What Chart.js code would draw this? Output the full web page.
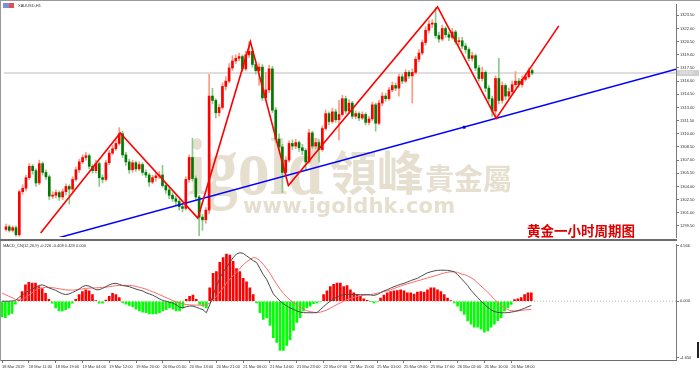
<!DOCTYPE html>
<html>
<head>
<meta charset="utf-8">
<script src="https://cdn.jsdelivr.net/npm/chart.js@4/dist/chart.umd.min.js"></script>
<style>
  html, body { margin: 0; padding: 0; background: #fff; }
  #wrap { position: relative; width: 700px; height: 370px; overflow: hidden; }
  canvas { position: absolute; left: 0; }
  #price { top: 0; }
  #macd { top: 241px; }
</style>
</head>
<body>
<div id="wrap">
  <canvas id="price" width="700" height="241"></canvas>
  <canvas id="macd" width="700" height="129"></canvas>
</div>
<script>
// XAUUSD H1, 18 Mar 03:00 -> 26 Mar, one entry per hourly bar
const timeLabels = ['18 Mar 2019', '18 Mar 11:00', '18 Mar 19:00', '19 Mar 04:00', '19 Mar 12:00',
  '19 Mar 20:00', '20 Mar 05:00', '20 Mar 13:00', '20 Mar 21:00', '21 Mar 06:00', '21 Mar 14:00',
  '21 Mar 23:00', '22 Mar 07:00', '22 Mar 15:00', '25 Mar 01:00', '25 Mar 09:00', '25 Mar 17:00',
  '26 Mar 02:00', '26 Mar 10:00', '26 Mar 18:00'];
const labelStep = 8; // one time label every 8 bars

const firstOpen = 1299.1;
const closes = [
  1299.4, 1299.0, 1299.3, 1298.5, 1303.4, 1303.8, 1305.0, 1306.3, 1305.8, 1304.4,
  1306.6, 1305.6, 1305.1, 1302.9, 1303.0, 1303.3, 1302.8, 1303.4, 1304.0, 1303.7,
  1304.8, 1305.9, 1306.8, 1307.3, 1307.5, 1306.3, 1305.8, 1306.6, 1305.0, 1304.8,
  1306.7, 1307.8, 1308.3, 1308.9, 1310.0, 1307.6, 1306.8, 1305.9, 1306.7, 1306.0,
  1306.5, 1305.6, 1305.3, 1304.5, 1305.0, 1305.2, 1305.3, 1304.1, 1303.6, 1303.0,
  1302.6, 1302.3, 1301.7, 1301.5, 1304.8, 1307.3, 1304.9, 1302.8, 1300.5, 1300.2,
  1301.3, 1314.3, 1313.8, 1312.4, 1313.0, 1315.4, 1316.0, 1317.5, 1318.3, 1318.6,
  1318.8, 1317.4, 1319.0, 1319.4, 1317.9, 1317.2, 1317.6, 1314.1, 1315.0, 1317.4,
  1312.7, 1309.4, 1308.5, 1305.6, 1307.0, 1308.9, 1308.6, 1309.0, 1308.4, 1308.1,
  1306.8, 1310.1, 1308.6, 1309.0, 1308.2, 1310.6, 1312.3, 1311.4, 1312.5, 1311.6,
  1312.2, 1314.0, 1312.6, 1313.5, 1312.0, 1312.3, 1311.8, 1312.2, 1311.3, 1311.7,
  1313.3, 1311.2, 1313.5, 1314.3, 1314.0, 1315.0, 1315.5, 1315.2, 1316.5, 1316.0,
  1317.0, 1316.6, 1317.0, 1318.5, 1319.2, 1320.4, 1321.8, 1322.5, 1322.6, 1321.2,
  1320.8, 1322.0, 1321.3, 1321.0, 1321.6, 1320.5, 1320.6, 1320.0, 1319.6, 1318.6,
  1318.9, 1317.5, 1316.3, 1317.0, 1315.2, 1314.0, 1312.6, 1316.3, 1313.8, 1315.5,
  1314.3, 1314.8, 1315.6, 1316.0, 1315.6, 1316.2, 1316.5, 1317.2, 1316.92
];
const highs = [
  1299.7, 1299.6, 1299.5, 1299.5, 1303.6, 1304.2, 1305.3, 1306.6, 1306.5, 1306.0,
  1307.0, 1306.8, 1305.9, 1305.3, 1303.4, 1303.6, 1303.5, 1303.7, 1304.3, 1304.2,
  1305.1, 1306.2, 1307.1, 1307.6, 1307.9, 1307.7, 1306.5, 1307.0, 1306.8, 1305.3,
  1307.0, 1308.1, 1308.7, 1309.3, 1310.7, 1310.3, 1307.9, 1307.1, 1307.0, 1306.9,
  1306.8, 1306.7, 1305.9, 1305.5, 1305.3, 1305.5, 1305.7, 1306.4, 1304.4, 1303.9,
  1303.3, 1302.9, 1302.5, 1302.0, 1305.1, 1307.6, 1309.5, 1305.2, 1303.0, 1300.8,
  1301.6, 1316.8, 1315.2, 1314.0, 1313.4, 1315.8, 1316.5, 1318.0, 1318.9, 1319.0,
  1319.2, 1319.0, 1319.4, 1320.5, 1319.7, 1318.2, 1318.0, 1317.9, 1317.0, 1317.8,
  1317.7, 1313.0, 1310.0, 1308.8, 1307.4, 1309.2, 1309.3, 1309.4, 1309.2, 1308.8,
  1308.3, 1310.5, 1310.3, 1309.5, 1309.3, 1310.9, 1312.7, 1312.5, 1312.9, 1312.8,
  1313.8, 1314.4, 1314.3, 1313.9, 1313.7, 1312.6, 1312.5, 1312.5, 1312.4, 1312.0,
  1313.6, 1313.5, 1313.8, 1314.7, 1314.6, 1315.3, 1315.9, 1315.8, 1316.8, 1316.8,
  1317.3, 1317.2, 1317.4, 1318.8, 1319.6, 1320.7, 1322.2, 1322.9, 1323.0, 1324.4,
  1321.6, 1322.4, 1322.2, 1321.6, 1322.0, 1321.8, 1321.0, 1321.0, 1320.3, 1319.8,
  1319.3, 1319.1, 1317.8, 1317.6, 1317.2, 1315.5, 1314.3, 1316.6, 1318.6, 1315.9,
  1315.7, 1315.2, 1316.0, 1317.1, 1316.3, 1316.6, 1316.9, 1317.5, 1317.4
];
const lows = [
  1298.9, 1298.8, 1298.8, 1298.3, 1298.3, 1303.1, 1303.5, 1304.8, 1305.4, 1304.0,
  1304.2, 1305.3, 1304.8, 1302.5, 1302.6, 1302.7, 1302.4, 1302.5, 1303.0, 1302.0,
  1303.4, 1304.6, 1305.6, 1306.6, 1307.0, 1306.0, 1305.5, 1305.5, 1304.0, 1304.4,
  1304.6, 1306.5, 1307.6, 1308.1, 1308.7, 1307.3, 1306.4, 1305.5, 1305.6, 1305.7,
  1305.8, 1305.3, 1305.0, 1304.0, 1304.3, 1304.6, 1304.9, 1303.9, 1303.2, 1302.6,
  1302.3, 1301.9, 1301.3, 1301.1, 1301.3, 1304.5, 1304.6, 1302.4, 1298.4, 1299.0,
  1299.8, 1300.9, 1313.4, 1311.8, 1312.0, 1312.8, 1315.0, 1315.8, 1317.2, 1318.0,
  1318.3, 1317.1, 1317.2, 1318.7, 1317.6, 1316.8, 1315.5, 1313.8, 1313.8, 1314.7,
  1312.4, 1309.0, 1308.2, 1303.3, 1305.2, 1306.8, 1308.2, 1308.3, 1308.0, 1307.6,
  1305.8, 1306.6, 1308.3, 1308.3, 1306.8, 1308.0, 1310.4, 1311.0, 1311.2, 1311.3,
  1309.3, 1312.0, 1312.3, 1312.3, 1311.7, 1311.7, 1311.5, 1311.6, 1311.0, 1311.0,
  1311.5, 1310.3, 1311.0, 1313.2, 1313.7, 1313.8, 1314.8, 1314.9, 1314.3, 1315.7,
  1315.8, 1316.3, 1313.5, 1316.8, 1318.2, 1319.0, 1320.1, 1321.5, 1322.1, 1320.9,
  1320.4, 1320.6, 1321.0, 1320.6, 1320.8, 1320.2, 1320.1, 1319.7, 1319.2, 1318.3,
  1318.3, 1317.2, 1316.0, 1316.0, 1314.8, 1313.6, 1312.0, 1311.9, 1313.4, 1313.5,
  1313.9, 1314.0, 1314.5, 1315.3, 1315.3, 1315.3, 1316.0, 1316.3, 1316.7
];
const priceTicks = [1323.5, 1322.0, 1320.5, 1319.0, 1317.5, 1316.0, 1314.5, 1313.0, 1311.5,
  1310.0, 1308.5, 1307.0, 1305.5, 1304.0, 1302.5, 1301.0, 1299.5];
const bidPrice = 1316.92;

// hand drawn analysis lines: [bar, price]
const zigzag = [[10.4, 1298.7], [34.3, 1310.1], [57.6, 1300.4], [73.4, 1320.5], [84.8, 1304.1],
  [129.6, 1324.45], [147.2, 1311.75], [166.0, 1322.3]];
const trendLine = [[14.3, 1298.0], [201.2, 1317.37]];
const trendMark = [137.6, 1310.75];

// MACD_CN(12,26,9)
const macdHist = [
  -1.3, -1.35, -1.1, -1.0, -0.25, 0.1, 0.8, 1.35, 1.55, 1.5,
  1.5, 1.2, 1.05, 0.65, 0.15, -0.15, -0.55, -0.8, -0.8, -0.7,
  -0.55, -0.15, 0.15, 0.55, 0.8, 0.95, 0.85, 0.55, 0.05, -0.15,
  -0.15, 0.1, 0.4, 0.65, 0.55, 0.3, -0.12, -0.25, -0.35, -0.45,
  -0.65, -0.8, -0.9, -0.95, -1.05, -1.05, -1.05, -0.95, -0.8, -0.7,
  -0.55, -0.65, -0.8, -0.8, -0.55, 0.15, 0.4, 0.5, 0.15, -0.27,
  -0.4, -0.55, 1.1, 2.3, 2.45, 3.2, 3.6, 3.9, 3.8, 3.3,
  2.7, 2.45, 1.9, 1.6, 1.1, 0.55, -0.13, -0.95, -1.5, -1.35,
  -2.0, -3.0, -3.4, -4.05, -4.05, -3.65, -3.2, -2.4, -1.75, -1.35,
  -0.8, -0.55, -0.4, -0.2, -0.13, -0.05, 0.55, 0.85, 1.2, 1.4,
  1.5, 1.5, 1.2, 1.3, 0.95, 0.7, 0.55, 0.4, 0.2, 0.08,
  -0.02, -0.13, -0.05, 0.27, 0.5, 0.7, 0.8, 0.85, 0.88, 0.95,
  0.85, 0.7, 0.7, 0.6, 0.75, 0.8, 0.75, 0.95, 1.1, 1.1,
  0.95, 0.8, 0.55, 0.27, 0.05, -0.13, -0.4, -0.8, -1.08, -1.6,
  -1.9, -2.15, -2.15, -2.3, -2.55, -2.45, -2.15, -1.9, -1.6, -1.35,
  -0.8, -0.55, -0.27, 0.13, 0.2, 0.3, 0.55, 0.7, 0.7
];
const macdLine = [
  0.0, 0.0, 0.0, 0.02, 0.05, 0.3, 0.5, 0.7, 0.85, 1.0,
  1.15, 1.3, 1.35, 1.25, 1.1, 1.0, 0.9, 0.75, 0.62, 0.55,
  0.6, 0.72, 0.85, 1.0, 1.2, 1.3, 1.25, 1.1, 0.95, 0.95,
  1.05, 1.2, 1.35, 1.45, 1.48, 1.4, 1.3, 1.25, 1.2, 1.1,
  1.0, 0.92, 0.85, 0.7, 0.6, 0.5, 0.35, 0.2, 0.05, 0.0,
  -0.1, -0.15, -0.3, -0.5, -0.55, -0.45, -0.4, -0.4, -0.5, -0.6,
  -0.7, -0.95, -0.3, 0.5, 1.2, 1.9, 2.4, 2.8, 3.2, 3.6,
  3.9, 4.0, 3.95, 3.75, 3.55, 3.35, 3.2, 2.7, 2.2, 1.8,
  1.2, 0.6, 0.3, 0.0, -0.2, -0.4, -0.55, -0.67, -0.8, -0.9,
  -0.94, -0.95, -0.95, -0.95, -0.94, -0.7, -0.45, -0.2, 0.0, 0.2,
  0.35, 0.48, 0.54, 0.56, 0.55, 0.55, 0.54, 0.54, 0.54, 0.54,
  0.52, 0.48, 0.55, 0.7, 0.85, 0.95, 1.08, 1.2, 1.3, 1.4,
  1.48, 1.58, 1.7, 1.8, 1.89, 2.05, 2.2, 2.35, 2.43, 2.5,
  2.55, 2.56, 2.56, 2.55, 2.5, 2.43, 2.2, 1.9, 1.6, 1.3,
  0.9, 0.6, 0.3, 0.0, -0.25, -0.5, -0.72, -0.85, -0.92, -0.95,
  -0.95, -0.94, -0.9, -0.85, -0.78, -0.68, -0.58, -0.45, -0.35
];
const signalLine = [
  0.67, 0.55, 0.42, 0.3, 0.15, 0.1, 0.15, 0.3, 0.5, 0.7,
  0.9, 1.05, 1.1, 1.15, 1.15, 1.12, 1.08, 1.03, 0.98, 0.94,
  0.92, 0.92, 0.94, 0.98, 1.02, 1.06, 1.08, 1.1, 1.1, 1.12,
  1.14, 1.16, 1.2, 1.24, 1.28, 1.3, 1.3, 1.3, 1.3, 1.28,
  1.22, 1.15, 1.08, 1.0, 0.88, 0.78, 0.66, 0.55, 0.42, 0.3,
  0.18, 0.05, -0.05, -0.15, -0.22, -0.27, -0.3, -0.32, -0.32, -0.33,
  -0.34, -0.3, -0.15, 0.1, 0.4, 0.75, 1.1, 1.5, 1.8, 2.1,
  2.4, 2.7, 3.0, 3.25, 3.45, 3.6, 3.55, 3.35, 3.05, 2.7,
  2.3, 1.85, 1.4, 1.0, 0.65, 0.35, 0.1, -0.1, -0.3, -0.5,
  -0.65, -0.78, -0.86, -0.91, -0.94, -0.9, -0.82, -0.72, -0.58, -0.42,
  -0.27, -0.13, 0.0, 0.12, 0.22, 0.32, 0.4, 0.45, 0.5, 0.52,
  0.54, 0.6, 0.66, 0.72, 0.8, 0.86, 0.95, 1.05, 1.15, 1.25,
  1.35, 1.43, 1.51, 1.6, 1.68, 1.75, 1.84, 1.92, 2.0, 2.08,
  2.16, 2.25, 2.33, 2.39, 2.43, 2.42, 2.38, 2.25, 2.2, 2.1,
  1.95, 1.75, 1.5, 1.25, 1.0, 0.75, 0.45, 0.15, -0.1, -0.35,
  -0.55, -0.7, -0.78, -0.8, -0.8, -0.76, -0.72, -0.7, -0.67
];
const macdTicks = [4.566, 0, -4.65];

// ---- layout (bar index on x) ----
const X_MIN = -0.6, X_MAX = 201.2;
const AXIS_W = 24;
const FONT = '"Liberation Sans", Arial, sans-serif';

const opens = closes.map((c, i) => (i === 0 ? firstOpen : closes[i - 1]));
const isUp = i => closes[i] >= opens[i];

const pt = ([x, y]) => ({ x, y });

// watermark, title and chart frame for the price window
const priceDecor = {
  id: 'priceDecor',
  beforeDatasetsDraw(chart) {
    const ctx = chart.ctx;
    ctx.save();
    ctx.fillStyle = '#e6dfcf';
    ctx.textBaseline = 'alphabetic';
    ctx.save();
    ctx.translate(188, 194);
    ctx.scale(1, 1.25);
    ctx.font = 'bold 64px "Liberation Serif", serif';
    ctx.fillText('igold', 0, 0);
    ctx.restore();
    ctx.textBaseline = 'middle';
    ctx.font = 'bold 47px "Noto Sans CJK TC"';
    ctx.fillText('領峰', 330, 172);
    ctx.font = 'bold 29px "Noto Sans CJK TC"';
    ctx.fillText('貴金屬', 425, 179);
    // www line, spread to the width it has in the picture
    ctx.font = 'bold 21px "DejaVu Sans", sans-serif';
    const site = 'www.igoldhk.com';
    const w = ctx.measureText(site).width;
    ctx.letterSpacing = ((212 - w) / (site.length - 1)).toFixed(2) + 'px';
    ctx.fillText(site, 243, 208);
    ctx.restore();
  },
  afterDraw(chart) {
    const ctx = chart.ctx;
    ctx.save();
    // frame
    ctx.fillStyle = '#9a9a9a';
    ctx.fillRect(0, 0, 700, 1);
    ctx.fillRect(0, 0, 1, 241);
    ctx.fillStyle = '#6c6c6c';
    ctx.fillRect(0, 239, 677, 2);
    // symbol header
    ctx.fillStyle = '#7f8fe0';
    ctx.fillRect(3, 3, 6, 5);
    ctx.fillStyle = '#e05050';
    ctx.fillRect(9, 3, 5, 5);
    ctx.fillStyle = '#333';
    ctx.font = '4px ' + FONT;
    ctx.textBaseline = 'middle';
    ctx.fillText('XAUUSD,H1', 18, 5.5);
    // bid price tag on the axis
    const y = chart.scales.y.getPixelForValue(bidPrice);
    ctx.fillStyle = '#cfcfcf';
    ctx.fillRect(677, y - 3, 22, 6);
    ctx.fillStyle = '#f4f4f4';
    ctx.fillText(bidPrice.toFixed(2), 679, y);
    // caption
    ctx.fillStyle = '#e00000';
    ctx.font = 'bold 13.5px "Noto Sans CJK SC"';
    ctx.fillText('黄金一小时周期图', 527, 231);
    ctx.restore();
  }
};

new Chart(document.getElementById('price'), {
  data: {
    datasets: [
      {
        type: 'line', order: 0,
        data: zigzag.map(pt),
        borderColor: '#ff0000', borderWidth: 1.6, pointRadius: 0
      },
      {
        type: 'line', order: 0,
        data: trendLine.map(pt),
        borderColor: '#0000ff', borderWidth: 1.5, pointRadius: 0
      },
      {
        type: 'scatter', order: 0,
        data: [pt(trendMark)],
        pointStyle: 'rect', pointRadius: 2, backgroundColor: '#000060', borderWidth: 0
      },
      {
        type: 'bar', order: 1, grouped: false,
        data: closes.map((c, i) => ({ x: i, y: [opens[i], c] })),
        barThickness: 2, minBarLength: 1,
        backgroundColor: ctx => (isUp(ctx.dataIndex) ? '#ff0000' : '#007a00')
      },
      {
        type: 'bar', order: 2, grouped: false,
        data: highs.map((h, i) => ({ x: i, y: [lows[i], h] })),
        barThickness: 1,
        backgroundColor: ctx => (isUp(ctx.dataIndex) ? '#ff9a80' : '#8cc98c')
      },
      {
        type: 'line', order: 3,
        data: [{ x: X_MIN, y: bidPrice }, { x: X_MAX, y: bidPrice }],
        borderColor: '#dedede', borderWidth: 2, pointRadius: 0
      }
    ]
  },
  options: {
    responsive: false,
    animation: false,
    devicePixelRatio: 1,
    events: [],
    layout: { padding: { top: 2, bottom: 3, left: 0, right: 0 } },
    plugins: { legend: { display: false }, tooltip: { enabled: false } },
    scales: {
      x: { type: 'linear', min: X_MIN, max: X_MAX, offset: false, display: false },
      y: {
        position: 'right',
        min: 1298.24, max: 1324.79,
        afterFit: s => { s.width = AXIS_W; },
        afterBuildTicks: s => { s.ticks = priceTicks.map(v => ({ value: v })); },
        ticks: {
          autoSkip: false, padding: 1, color: '#333',
          font: { size: 4, family: FONT },
          callback: v => v.toFixed(2)
        },
        grid: { drawOnChartArea: false, tickLength: 3, tickColor: '#777' },
        border: { color: '#7a7a7a' }
      }
    }
  },
  plugins: [priceDecor]
});

const macdDecor = {
  id: 'macdDecor',
  afterDraw(chart) {
    const ctx = chart.ctx;
    ctx.save();
    ctx.fillStyle = '#9a9a9a';
    ctx.fillRect(0, 0, 1, 120);
    ctx.fillStyle = '#333';
    ctx.font = '4px ' + FONT;
    ctx.textBaseline = 'middle';
    ctx.fillText('MACD_CN(12,26,9) -0.226 -0.408 0.428 0.000', 3, 5);
    ctx.fillStyle = '#222';
    ctx.fillRect(697, 101, 2, 16);
    ctx.restore();
  }
};

new Chart(document.getElementById('macd'), {
  data: {
    datasets: [
      {
        type: 'line', order: 0,
        data: macdLine.map((v, i) => ({ x: i, y: v })),
        borderColor: '#4a4a4a', borderWidth: 1, pointRadius: 0
      },
      {
        type: 'line', order: 0,
        data: signalLine.map((v, i) => ({ x: i, y: v })),
        borderColor: '#ff6a6a', borderWidth: 1, pointRadius: 0
      },
      {
        type: 'bar', order: 1, grouped: false,
        data: macdHist.map((v, i) => ({ x: i, y: v })),
        barThickness: 2,
        backgroundColor: ctx => (macdHist[ctx.dataIndex] >= 0 ? '#ff0000' : '#00ff00')
      },
      {
        type: 'line', order: 2,
        data: [{ x: X_MIN, y: 0 }, { x: X_MAX, y: 0 }],
        borderColor: '#b4b4b4', borderWidth: 1, borderDash: [1, 2], pointRadius: 0
      }
    ]
  },
  options: {
    responsive: false,
    animation: false,
    devicePixelRatio: 1,
    events: [],
    layout: { padding: { top: 1, bottom: 0, left: 0, right: 0 } },
    plugins: { legend: { display: false }, tooltip: { enabled: false } },
    scales: {
      x: {
        type: 'linear', min: X_MIN, max: X_MAX, offset: false,
        afterFit: s => { s.height = 10; },
        afterBuildTicks: s => { s.ticks = timeLabels.map((_, k) => ({ value: k * labelStep })); },
        ticks: {
          autoSkip: false, maxRotation: 0, align: 'start', padding: 1, color: '#333',
          font: { size: 4, family: FONT },
          callback: (v, k) => timeLabels[k]
        },
        grid: { drawOnChartArea: false, offset: false, tickLength: 3, tickColor: '#777' },
        border: { color: '#6c6c6c', width: 1 }
      },
      y: {
        position: 'right',
        min: -4.85, max: 4.69,
        afterFit: s => { s.width = AXIS_W; },
        afterBuildTicks: s => { s.ticks = macdTicks.map(v => ({ value: v })); },
        ticks: {
          autoSkip: false, padding: 1, color: '#333',
          font: { size: 4, family: FONT },
          callback: v => v.toFixed(3)
        },
        grid: { drawOnChartArea: false, tickLength: 3, tickColor: '#777' },
        border: { color: '#7a7a7a' }
      }
    }
  },
  plugins: [macdDecor]
});
</script>
</body>
</html>
